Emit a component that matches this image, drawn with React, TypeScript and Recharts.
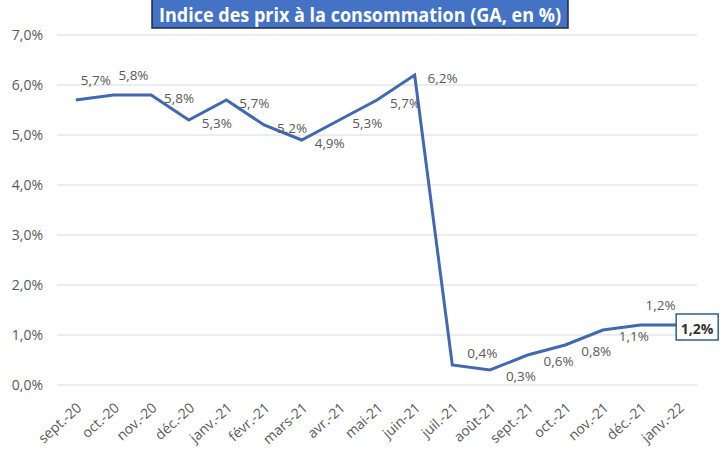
import React from 'react';
import { LineChart, Line, XAxis, YAxis, CartesianGrid, LabelList } from 'recharts';

const months = [
  'sept.-20', 'oct.-20', 'nov.-20', 'déc.-20', 'janv.-21', 'févr.-21', 'mars-21', 'avr.-21',
  'mai-21', 'juin-21', 'juil.-21', 'août-21', 'sept.-21', 'oct.-21', 'nov.-21', 'déc.-21', 'janv.-22',
];
const cpi = [5.7, 5.8, 5.8, 5.3, 5.7, 5.2, 4.9, 5.3, 5.7, 6.2, 0.4, 0.3, 0.6, 0.8, 1.1, 1.2, 1.2];
const yTicks = [0, 1, 2, 3, 4, 5, 6, 7];
const title = 'Indice des prix à la consommation (GA, en %)';

const data = months.map((m, i) => ({ i, month: m, value: cpi[i] }));
const xTicks = months.map((_, i) => i);
const boundaryTicks = [...months.map((_, i) => i - 0.5), months.length - 0.5];

const placement = [
  'above', 'above', 'right', 'right', 'right', 'right', 'right', 'right', 'right', 'right',
  'upRight', 'rightLow', 'rightLow', 'rightLow', 'rightLow', 'above', 'box',
];

const fmt = (v: number) => v.toFixed(1).replace('.', ',') + '%';
const FONT = "'Open Sans', 'Noto Sans', sans-serif";
const LINE = '#4168B0';

const PointLabel = (props: any) => {
  const { x, y, value, index } = props;
  const p = placement[index];
  if (p === 'box') {
    return (
      <g>
        <rect x={x - 2} y={y - 11} width={42} height={26} fill="#fff" stroke="#2E5C9E" strokeWidth={1.5} />
        <text x={x + 19} y={y + 3} textAnchor="middle" dominantBaseline="central" fontFamily={FONT} fontSize={14} fontWeight={700} fill="#333">
          {fmt(value)}
        </text>
      </g>
    );
  }
  let dx = 28, dy = 3;
  if (p === 'above') { dx = 20; dy = -20; }
  if (p === 'upRight') { dx = 30; dy = -12; }
  if (p === 'rightLow') { dx = 31; dy = 6; }
  return (
    <text x={x + dx} y={y + dy} textAnchor="middle" dominantBaseline="central" fontFamily={FONT} fontSize={13.5} fill="#595959">
      {fmt(value)}
    </text>
  );
};

const XTick = (props: any) => {
  const { x, y, payload } = props;
  const ax = x + 3;
  const ay = y + 12;
  return (
    <text x={ax} y={ay} transform={`rotate(-42, ${ax}, ${ay})`} textAnchor="end" dominantBaseline="central" fontFamily={FONT} fontSize={14} fill="#595959">
      {months[payload.value]}
    </text>
  );
};

export default function App() {
  return (
    <div style={{ position: 'absolute', left: 0, top: 0, width: 720, height: 450, background: '#fff' }}>
      <div style={{ position: 'absolute', left: 0, top: 0 }}>
        <LineChart width={720} height={450} data={data} margin={{ top: 35, right: 23, bottom: 0, left: 0 }}>
          <CartesianGrid horizontal vertical={false} stroke="#D9D9D9" />
          <XAxis
            xAxisId="b"
            dataKey="i"
            type="number"
            domain={[-0.5, months.length - 0.5]}
            ticks={boundaryTicks}
            tick={false}
            tickSize={5}
            axisLine={{ stroke: '#D0D0D0' }}
            tickLine={{ stroke: '#D0D0D0' }}
            height={0}
          />
          <XAxis
            xAxisId="a"
            dataKey="i"
            type="number"
            domain={[-0.5, months.length - 0.5]}
            ticks={xTicks}
            interval={0}
            tick={<XTick />}
            axisLine={false}
            tickLine={false}
            height={65}
          />
          <YAxis
            domain={[0, 7]}
            ticks={yTicks}
            tickFormatter={fmt}
            axisLine={false}
            tickLine={false}
            tickSize={0}
            tickMargin={14}
            width={57}
            tick={{ fontFamily: FONT, fontSize: 14, fill: '#595959' }}
          />
          <Line
            xAxisId="a"
            type="linear"
            dataKey="value"
            stroke={LINE}
            strokeWidth={3}
            dot={false}
            isAnimationActive={false}
          >
            <LabelList dataKey="value" content={<PointLabel />} />
          </Line>
        </LineChart>
      </div>
      <svg width={720} height={40} style={{ position: 'absolute', left: 0, top: 0 }}>
        <rect x={152} y={-2} width={416} height={30} fill="#4472C4" stroke="#1F2A44" strokeWidth={1.5} />
        <text x={159} y={14} textLength={402} lengthAdjust="spacingAndGlyphs" dominantBaseline="central" fontFamily={FONT} fontSize={20} fontWeight={700} fill="#fff">
          {title}
        </text>
      </svg>
    </div>
  );
}
